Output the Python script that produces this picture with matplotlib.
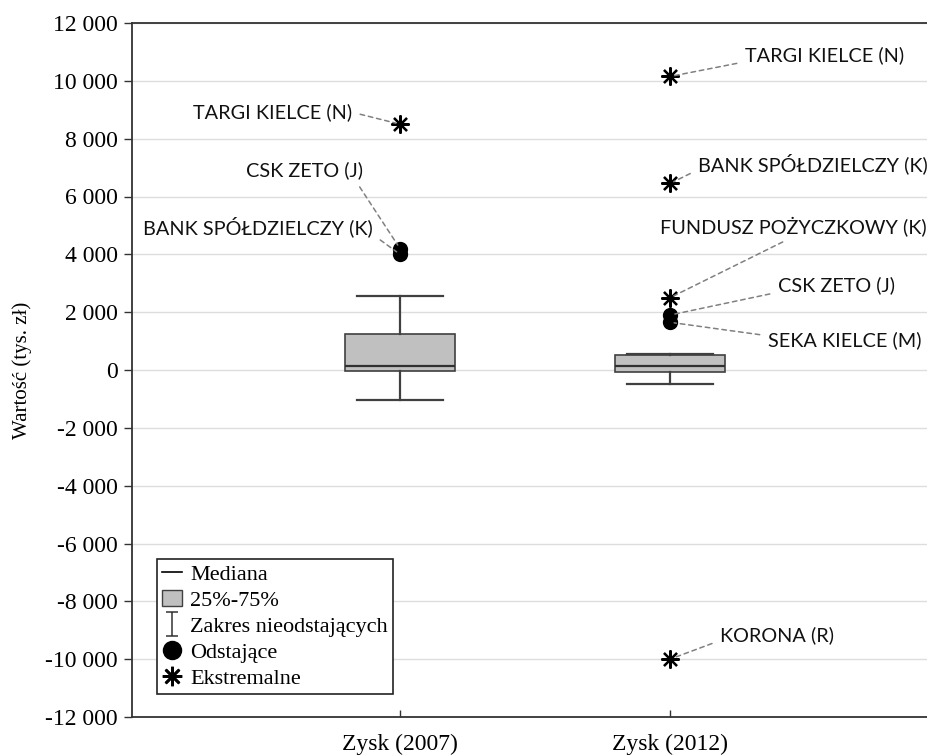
import matplotlib

matplotlib.use("Agg")
import matplotlib.pyplot as plt
from matplotlib.lines import Line2D
from matplotlib.patches import Patch
from matplotlib.path import Path

# --- dane ---
GROUPS = ["Zysk (2007)", "Zysk (2012)"]
Q1 = [-20, -60]
MEDIAN = [140, 150]
Q3 = [1250, 520]
WHISK_LO = [-1050, -500]
WHISK_HI = [2550, 550]

# punkty odstające / ekstremalne: (grupa, wartość, nazwa)
OUT_GROUP = [0, 0, 1, 1]
OUT_VALUE = [4000, 4200, 1650, 1900]
OUT_NAME = ["BANK SPÓŁDZIELCZY (K)", "CSK ZETO (J)", "SEKA KIELCE (M)", "CSK ZETO (J)"]

EXT_GROUP = [0, 1, 1, 1, 1]
EXT_VALUE = [8500, 10150, 6450, 2500, -10000]
EXT_NAME = ["TARGI KIELCE (N)", "TARGI KIELCE (N)", "BANK SPÓŁDZIELCZY (K)",
            "FUNDUSZ POŻYCZKOWY (K)", "KORONA (R)"]

YTICKS = list(range(-12000, 12001, 2000))

# przesunięcia etykiet (px), wyrównanie, punkt zaczepienia linii
LABEL_STYLE = {
    ("TARGI KIELCE (N)", 0): (-48, 12, "right", (1.0, 0.5)),
    ("CSK ZETO (J)", 0): (-37, 78, "right", (0.93, 0.0)),
    ("BANK SPÓŁDZIELCZY (K)", 0): (-27, 28, "right", (1.0, 0.1)),
    ("TARGI KIELCE (N)", 1): (75, 21, "left", (0.0, 0.15)),
    ("BANK SPÓŁDZIELCZY (K)", 1): (28, 20, "left", (0.0, 0.2)),
    ("FUNDUSZ POŻYCZKOWY (K)", 1): (-10, 71, "left", (0.5, 0.0)),
    ("CSK ZETO (J)", 1): (108, 30, "left", (0.0, 0.1)),
    ("SEKA KIELCE (M)", 1): (98, -18, "left", (0.0, 0.75)),
    ("KORONA (R)", 1): (50, 24, "left", (0.0, 0.2)),
}

SERIF = "Liberation Serif"
LABEL_FONT = "Lato"

W, H = 928, 756
fig = plt.figure(figsize=(W / 100, H / 100), dpi=100)
ax = fig.add_axes([132 / W, (H - 717) / H, 1 - 132 / W, (717 - 23) / H])

positions = [1, 2]
stats = []
for i, g in enumerate(GROUPS):
    stats.append({"label": g, "q1": Q1[i], "med": MEDIAN[i], "q3": Q3[i],
                  "whislo": WHISK_LO[i], "whishi": WHISK_HI[i], "fliers": []})

ax.bxp(stats, positions=positions, widths=0.41, patch_artist=True,
       boxprops=dict(facecolor="#c0c0c0", edgecolor="#404040", linewidth=1.2),
       medianprops=dict(color="#303030", linewidth=1.6),
       whiskerprops=dict(color="#404040", linewidth=1.6),
       capprops=dict(color="#404040", linewidth=1.6), capwidths=0.32,
       zorder=3)

ox = [positions[g] for g in OUT_GROUP]
ax.plot(ox, OUT_VALUE, "o", color="black", markersize=10, zorder=4)
ex = [positions[g] for g in EXT_GROUP]
ax.plot(ex, EXT_VALUE, marker=(8, 2, 0), ls="none", color="black",
        markersize=13, markeredgewidth=1.6, zorder=4)

for names, groups, values in [(OUT_NAME, OUT_GROUP, OUT_VALUE),
                              (EXT_NAME, EXT_GROUP, EXT_VALUE)]:
    for name, g, v in zip(names, groups, values):
        dx, dy, ha, rel = LABEL_STYLE[(name, g)]
        ax.annotate(name, xy=(positions[g], v), xytext=(dx * 0.72, dy * 0.72),
                    textcoords="offset points", ha=ha, va="center",
                    fontsize=14.3, family=LABEL_FONT, color="#111111",
                    arrowprops=dict(arrowstyle="-", ls=(0, (3, 2.5)), color="#808080",
                                    lw=1.1, relpos=rel, shrinkA=4, shrinkB=3),
                    zorder=5)

ax.set_xlim(1 - 268 / 270, 2 + 258 / 270)
ax.set_ylim(-12000, 12000)
ax.set_yticks(YTICKS)
ax.set_yticklabels([f"{t:,}".replace(",", " ") for t in YTICKS], family=SERIF, fontsize=17)
ax.set_xticks(positions)
ax.set_xticklabels(GROUPS, family=SERIF, fontsize=17)
ax.tick_params(axis="y", direction="out", length=6, width=1, color="#333333", pad=4)
ax.tick_params(axis="x", direction="in", length=5, width=1, color="#333333", pad=12)
ax.set_ylabel("Wartość (tys. zł)", family=SERIF, fontsize=15, labelpad=10)
ax.grid(axis="y", color="#dddddd", linewidth=1, zorder=0)
ax.set_axisbelow(True)
ax.spines["right"].set_visible(False)
for s in ["left", "top", "bottom"]:
    ax.spines[s].set_color("#333333")
    ax.spines[s].set_linewidth(1.3)

# symbol wąsów w legendzie (I z poprzeczkami)
ibeam = Path([(-0.5, 1), (0.5, 1), (0, 1), (0, -1), (-0.5, -1), (0.5, -1)],
             [Path.MOVETO, Path.LINETO, Path.MOVETO, Path.LINETO, Path.MOVETO, Path.LINETO])

handles = [
    Line2D([], [], color="black", lw=1.2),
    Patch(facecolor="#c0c0c0", edgecolor="#404040"),
    Line2D([], [], ls="none", marker=ibeam, color="#333333", markersize=17,
           markeredgewidth=1.1),
    Line2D([], [], ls="none", marker="o", color="black", markersize=13),
    Line2D([], [], ls="none", marker=(8, 2, 0), color="black", markersize=14,
           markeredgewidth=1.9),
]
labels = ["Mediana", "25%-75%", "Zakres nieodstających", "Odstające", "Ekstremalne"]
leg = ax.legend(handles, labels, loc="lower left", bbox_to_anchor=(0.031, 0.033),
                prop=dict(family=SERIF, size=16), fancybox=False, framealpha=1,
                edgecolor="#222222", handlelength=0.9, handletextpad=0.35,
                labelspacing=0.24, borderpad=0.25, borderaxespad=0)
leg.get_frame().set_linewidth(1.2)

fig.savefig("out.png", dpi=100)
